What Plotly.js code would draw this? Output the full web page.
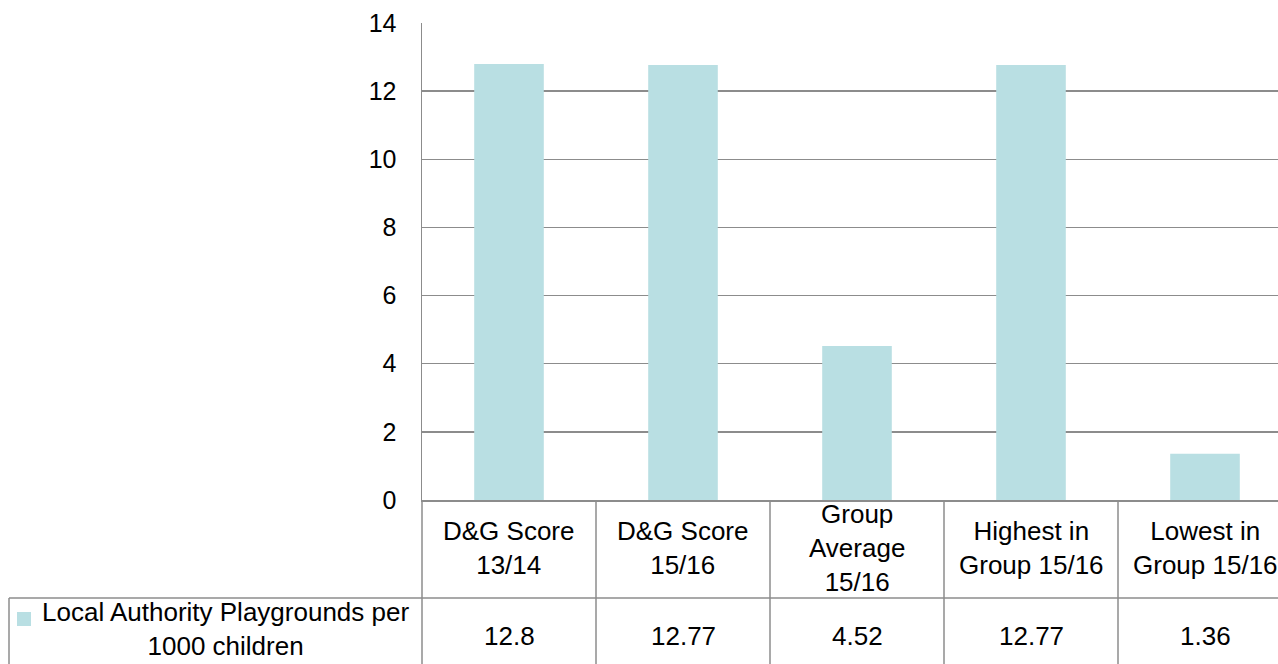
<!DOCTYPE html>
<html>
<head>
<meta charset="utf-8">
<script src="https://cdn.plot.ly/plotly-3.0.1.min.js"></script>
<style>
html, body { margin: 0; padding: 0; overflow: hidden; background: #fff; }
#chart { width: 1292px; height: 664px; }
</style>
</head>
<body>
<div id="chart"></div>
<script>
// ---- data ----
const categories = ["D&G Score<br>13/14", "D&G Score<br>15/16", "Group<br>Average<br>15/16", "Highest in<br>Group 15/16", "Lowest in<br>Group 15/16"];
const values = [12.8, 12.77, 4.52, 12.77, 1.36];
const valueLabels = ["12.8", "12.77", "4.52", "12.77", "1.36"];
const seriesName = "Local Authority Playgrounds per<br>1000 children";
const yTicks = [0, 2, 4, 6, 8, 10, 12, 14];

// ---- geometry helpers (pixels -> paper) ----
const W = 1292, H = 664;
const M = { l: 422, r: 0, t: 23, b: 164 };
const PW = W - M.l - M.r, PH = H - M.t - M.b;
const px = X => (X - M.l) / PW;
const py = Y => (H - M.b - Y) / PH;

const barColor = "#B9DFE3";
const lineColor = "#8C8C8C";
const font = "Liberation Sans, Arial, sans-serif";
const tableSize = 26;
const n = categories.length;
const xIdx = categories.map((_, i) => i);

const shapes = [];
const line = (x0, y0, x1, y1) => shapes.push({
  type: "line", xref: "paper", yref: "paper", x0, y0, x1, y1,
  line: { color: lineColor, width: 1.5 }, layer: "above"
});
// left axis continuing down through the table
line(0, 0, 0, py(H + 5));
// vertical dividers between categories
for (let i = 1; i < n; i++) line(i / n, 0, i / n, py(H + 5));
// horizontal line under header row
line(px(9), py(598), 1, py(598));
// left edge of legend cell
line(px(9), py(598), px(9), py(H + 5));
// legend key square
shapes.push({
  type: "rect", xref: "paper", yref: "paper",
  x0: px(17), x1: px(31), y0: py(612), y1: py(626),
  fillcolor: barColor, line: { width: 0 }
});

const annotations = [];
categories.forEach((c, i) => {
  annotations.push({
    x: i, xref: "x", y: py(548), yref: "paper", text: c, showarrow: false,
    xanchor: "center", yanchor: "middle", align: "center",
    font: { family: font, size: tableSize, color: "#000" }
  });
  annotations.push({
    x: i, xref: "x", y: py(636), yref: "paper", text: valueLabels[i], showarrow: false,
    xanchor: "center", yanchor: "middle", align: "center",
    font: { family: font, size: tableSize, color: "#000" }
  });
});
annotations.push({
  x: px(225), xref: "paper", y: py(629), yref: "paper", text: seriesName, showarrow: false,
  xanchor: "center", yanchor: "middle", align: "center",
  font: { family: font, size: tableSize, color: "#000" }
});

const trace = {
  type: "bar", x: xIdx, y: values, name: seriesName,
  marker: { color: barColor, line: { width: 0 } },
  hoverinfo: "skip"
};

const layout = {
  width: W, height: H,
  margin: M,
  paper_bgcolor: "#fff", plot_bgcolor: "#fff",
  showlegend: false,
  bargap: 0.6,
  font: { family: font, size: 25, color: "#000" },
  xaxis: {
    type: "linear", range: [-0.5, n - 0.5], showticklabels: false, ticks: "",
    showgrid: false, zeroline: false, showline: true, linecolor: lineColor, linewidth: 1.5
  },
  yaxis: {
    range: [0, 14], tickvals: yTicks, ticktext: yTicks.map(String),
    showgrid: true, gridcolor: lineColor, gridwidth: 1.5,
    zeroline: false, showline: true, linecolor: lineColor, linewidth: 1.5,
    ticks: "", ticklabelstandoff: 19,
    tickfont: { family: font, size: 25, color: "#000" }
  },
  shapes, annotations
};

Plotly.newPlot("chart", [trace], layout, { staticPlot: true, displayModeBar: false });
</script>
</body>
</html>
